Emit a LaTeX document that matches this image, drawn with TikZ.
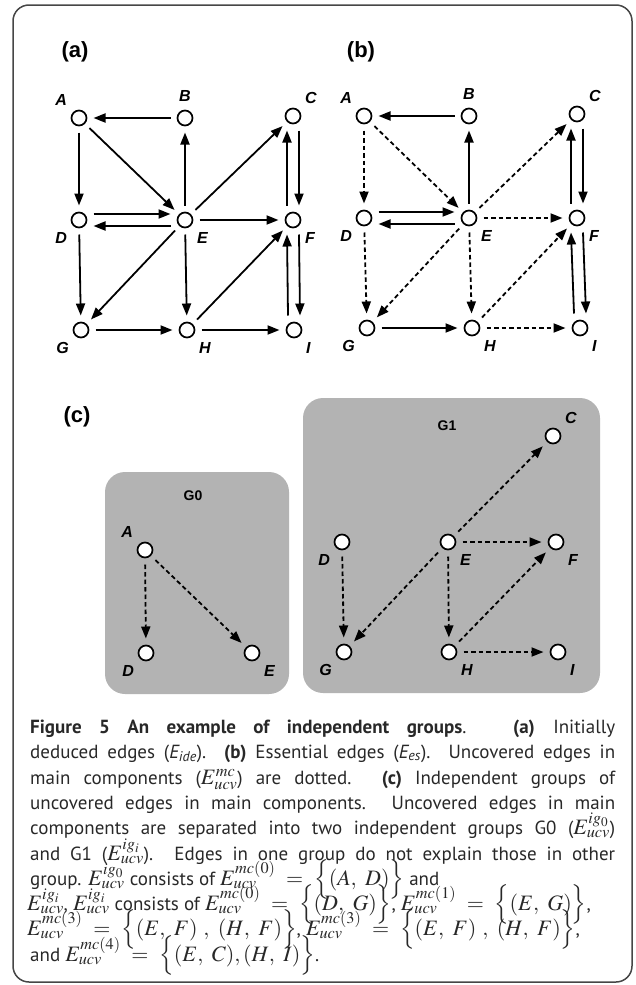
\documentclass[tikz,border=0pt]{standalone}
\usepackage{mathptmx}
\usepackage[no-math]{fontspec}
\setmainfont{PT Sans}
\newfontfamily\arialfont{Liberation Sans}
\usepackage{xcolor}
\usetikzlibrary{positioning,arrows.meta}
\definecolor{grpgray}{RGB}{179,179,179}
\definecolor{framegray}{RGB}{70,70,70}
\definecolor{captext}{RGB}{40,40,40}
\newcommand{\fullline}[1]{\makebox[585pt][s]{#1}}
\newcommand{\bigmath}[1]{{\fontsize{22}{22}\selectfont$#1$}}

\begin{document}
\begin{tikzpicture}[
  x=1pt, y=-1pt,
  vtx/.style={circle, draw, line width=1.7pt, fill=white, minimum size=15pt, inner sep=0pt, outer sep=7pt},
  lbl/.style={font=\arialfont\bfseries\itshape\fontsize{16}{16}\selectfont, inner sep=1pt},
  every label/.style={lbl},
  label distance=1pt,
  arr/.style={-{Triangle[length=12pt,width=9pt]}, line width=1.8pt},
  darr/.style={arr, dash pattern=on 4.5pt off 3pt},
  tag/.style={font=\arialfont\bfseries\fontsize{22}{22}\selectfont},
  grp/.style={fill=grpgray, rounded corners=20pt},
  gname/.style={font=\arialfont\bfseries\fontsize{14}{14}\selectfont},
  capline/.style={anchor=base west, inner sep=0pt, text=captext, font=\fontsize{19}{20}\selectfont},
  ]
  \useasboundingbox (0,0) rectangle (635,985);
  \draw[framegray, line width=1.5pt, rounded corners=16pt] (13,5) rectangle (632,982);
  % panel (a): initially deduced edges
  \node[tag] (ta) at (75,52) {(a)};
  \node[vtx, label=135:A] (aA) at (79,118) {};
  \node[vtx, label=90:B] (aB) at (185,118) {};
  \node[vtx, label=45:C] (aC) at (293,116) {};
  \node[vtx, label=-135:D] (aD) at (79,220) {};
  \node[vtx, label=-45:E] (aE) at (185,220) {};
  \node[vtx, label=-45:F] (aF) at (293,220) {};
  \node[vtx, label=-135:G] (aG) at (81,330) {};
  \node[vtx, label=-45:H] (aH) at (187,330) {};
  \node[vtx, label=-45:I] (aI) at (294,330) {};
  \draw[arr] (aB) -- (aA);
  \draw[arr] (aA) -- (aD);
  \draw[arr] (aA) -- (aE);
  \draw[arr] (aE) -- (aB);
  \draw[arr] (aE) -- (aC);
  \draw[arr] ([xshift=-6pt]aF.north) -- ([xshift=-6pt]aC.south);
  \draw[arr] ([xshift=6pt]aC.south) -- ([xshift=6pt]aF.north);
  \draw[arr] ([yshift=6pt]aD.east) -- ([yshift=6pt]aE.west);
  \draw[arr] ([yshift=-6pt]aE.west) -- ([yshift=-6pt]aD.east);
  \draw[arr] (aE) -- (aF);
  \draw[arr] (aD) -- (aG);
  \draw[arr] (aE) -- (aG);
  \draw[arr] (aE) -- (aH);
  \draw[arr] (aH) -- (aF);
  \draw[arr] ([xshift=-6pt]aI.north) -- ([xshift=-6pt]aF.south);
  \draw[arr] ([xshift=6pt]aF.south) -- ([xshift=6pt]aI.north);
  \draw[arr] (aG) -- (aH);
  \draw[arr] (aH) -- (aI);
  % panel (b): essential edges, uncovered ones dotted
  \node[tag] (tb) at (361,52) {(b)};
  \node[vtx, label=135:A] (bA) at (364,116) {};
  \node[vtx, label=90:B] (bB) at (469,116) {};
  \node[vtx, label=45:C] (bC) at (577,114) {};
  \node[vtx, label=-135:D] (bD) at (364,218) {};
  \node[vtx, label=-45:E] (bE) at (469,218) {};
  \node[vtx, label=-45:F] (bF) at (577,218) {};
  \node[vtx, label=-135:G] (bG) at (367,328) {};
  \node[vtx, label=-45:H] (bH) at (472,328) {};
  \node[vtx, label=-45:I] (bI) at (580,328) {};
  \draw[arr] (bB) -- (bA);
  \draw[darr] (bA) -- (bD);
  \draw[darr] (bA) -- (bE);
  \draw[arr] (bE) -- (bB);
  \draw[darr] (bE) -- (bC);
  \draw[arr] ([xshift=-6pt]bF.north) -- ([xshift=-6pt]bC.south);
  \draw[arr] ([xshift=6pt]bC.south) -- ([xshift=6pt]bF.north);
  \draw[arr] ([yshift=6pt]bD.east) -- ([yshift=6pt]bE.west);
  \draw[arr] ([yshift=-6pt]bE.west) -- ([yshift=-6pt]bD.east);
  \draw[darr] (bE) -- (bF);
  \draw[darr] (bD) -- (bG);
  \draw[darr] (bE) -- (bG);
  \draw[darr] (bE) -- (bH);
  \draw[darr] (bH) -- (bF);
  \draw[arr] ([xshift=-6pt]bI.north) -- ([xshift=-6pt]bF.south);
  \draw[arr] ([xshift=6pt]bF.south) -- ([xshift=6pt]bI.north);
  \draw[arr] (bG) -- (bH);
  \draw[darr] (bH) -- (bI);
  % panel (c): independent groups G0 and G1
  \node[tag] (tc) at (77,417) {(c)};
  \fill[grp] (105,472) rectangle (289,694);
  \fill[grp] (303,398) rectangle (600,693);
  \node[gname] (g0) at (193,496) {G0};
  \node[gname] (g1) at (447,426) {G1};
  \node[vtx, label=135:A] (cA) at (145,550) {};
  \node[vtx, label=-135:D] (cD) at (146,653) {};
  \node[vtx, label=-45:E] (cE) at (252,653) {};
  \draw[darr] (cA) -- (cD);
  \draw[darr] (cA) -- (cE);
  \node[vtx, label=45:C] (dC) at (553,436) {};
  \node[vtx, label=-135:D] (dD) at (342,542) {};
  \node[vtx, label=-45:E] (dE) at (448,542) {};
  \node[vtx, label=-45:F] (dF) at (556,542) {};
  \node[vtx, label=-135:G] (dG) at (344,652) {};
  \node[vtx, label=-45:H] (dH) at (449,652) {};
  \node[vtx, label=-45:I] (dI) at (558,652) {};
  \draw[darr] (dD) -- (dG);
  \draw[darr] (dE) -- (dG);
  \draw[darr] (dE) -- (dH);
  \draw[darr] (dE) -- (dF);
  \draw[darr] (dE) -- (dC);
  \draw[darr] (dH) -- (dF);
  \draw[darr] (dH) -- (dI);
  % caption
  \node[capline] (l1) at (30,733) {\fullline{\textbf{Figure 5 An example of independent groups}. \textbf{(a)} Initially}};
  \node[capline] (l2) at (30,758) {\fullline{deduced edges (\textit{E\textsubscript{ide}}). \textbf{(b)} Essential edges (\textit{E\textsubscript{es}}). Uncovered edges in}};
  \node[capline] (l3) at (30,784) {\fullline{main components (\bigmath{E^{mc}_{ucv}}) are dotted. \textbf{(c)} Independent groups of}};
  \node[capline] (l4) at (30,809) {\fullline{uncovered edges in main components. Uncovered edges in main}};
  \node[capline] (l5) at (30,834) {\fullline{components are separated into two independent groups G0 (\bigmath{E^{ig_0}_{ucv}})}};
  \node[capline] (l6) at (30,860) {\fullline{and G1 (\bigmath{E^{ig_i}_{ucv}}). Edges in one group do not explain those in other}};
  \node[capline] (l7) at (30,885) {group. \bigmath{E^{ig_0}_{ucv}} consists of \bigmath{E^{mc(0)}_{ucv}\ =\ \Big\{(A,\ D)\Big\}} and};
  \node[capline] (l8) at (27,910) {\bigmath{E^{ig_i}_{ucv}}, \bigmath{E^{ig_i}_{ucv}} consists of \bigmath{E^{mc(0)}_{ucv}\ =\ \Big\{(D,\ G)\Big\}}, \bigmath{E^{mc(1)}_{ucv}\ =\ \Big\{(E,\ G)\Big\}},};
  \node[capline] (l9) at (27,935) {\bigmath{E^{mc(3)}_{ucv}\ =\ \Big\{(E,\ F)\ ,\ (H,\ F)\Big\}}, \bigmath{E^{mc(3)}_{ucv}\ =\ \Big\{(E,\ F)\ ,\ (H,\ F)\Big\}},};
  \node[capline] (l10) at (30,961) {and \bigmath{E^{mc(4)}_{ucv}\ =\ \Big\{(E,\ C), (H,\ I)\Big\}}.};
\end{tikzpicture}
\end{document}
